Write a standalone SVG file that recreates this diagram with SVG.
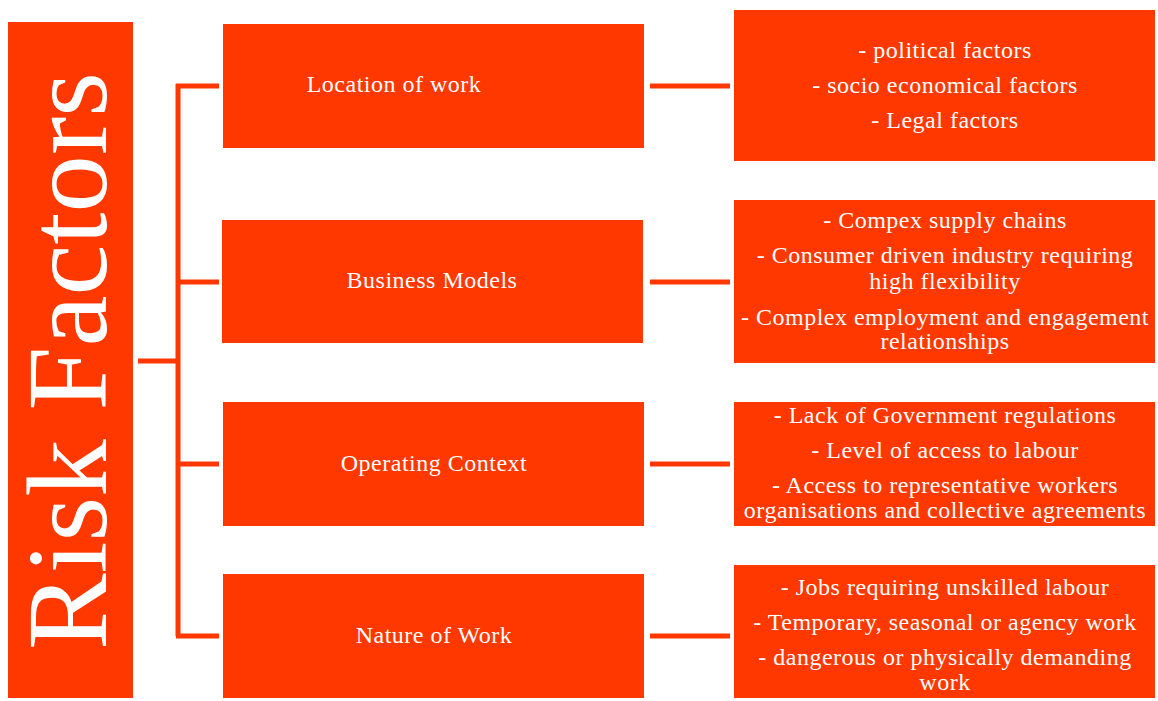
<svg xmlns="http://www.w3.org/2000/svg" width="1158" height="701" viewBox="0 0 1158 701">
  <style>
    .box { fill: #ff3800; }
    .lbl { fill: #ffffff; font-family: "Liberation Serif", "DejaVu Serif", serif; font-size: 24px; letter-spacing: 0.5px; text-anchor: middle; }
    .title { fill: #ffffff; font-family: "Liberation Serif", "DejaVu Serif", serif; font-size: 115px; text-anchor: middle; }
    .conn { stroke: #ff3800; stroke-width: 5; fill: none; }
  </style>
  <rect width="1158" height="701" fill="#ffffff"/>

  <g id="connectors">
    <path class="conn" d="M138 361 H178 M178 84 V636 M176 86 H219 M176 282 H219 M176 464 H219 M176 636 H219"/>
    <path class="conn" d="M650 86 H730 M650 282 H730 M650 464 H730 M650 636 H730"/>
  </g>

  <g id="risk-factors">
    <rect class="box" x="8" y="22" width="125" height="676"/>
    <text class="title" transform="rotate(-90)" x="-361" y="106">Risk Factors</text>
  </g>

  <g id="location-of-work">
    <rect class="box" x="223" y="24" width="421" height="124"/>
    <text class="lbl" x="394" y="92">Location of work</text>
  </g>
  <g id="business-models">
    <rect class="box" x="222" y="220" width="421" height="123"/>
    <text class="lbl" x="432" y="288">Business Models</text>
  </g>
  <g id="operating-context">
    <rect class="box" x="223" y="402" width="421" height="124"/>
    <text class="lbl" x="434" y="471">Operating Context</text>
  </g>
  <g id="nature-of-work">
    <rect class="box" x="223" y="574" width="421" height="124"/>
    <text class="lbl" x="434" y="643">Nature of Work</text>
  </g>

  <g id="location-details">
    <rect class="box" x="734" y="10" width="421" height="151"/>
    <text class="lbl" x="945" y="58">- political factors</text>
    <text class="lbl" x="945" y="93">- socio economical factors</text>
    <text class="lbl" x="945" y="128">- Legal factors</text>
  </g>
  <g id="business-details">
    <rect class="box" x="734" y="200" width="421" height="163"/>
    <text class="lbl" x="945" y="228">- Compex supply chains</text>
    <text class="lbl" x="945" y="263">- Consumer driven industry requiring</text>
    <text class="lbl" x="945" y="289">high flexibility</text>
    <text class="lbl" x="945" y="325">- Complex employment and engagement</text>
    <text class="lbl" x="945" y="349">relationships</text>
  </g>
  <g id="operating-details">
    <rect class="box" x="734" y="402" width="421" height="124"/>
    <text class="lbl" x="945" y="423">- Lack of Government regulations</text>
    <text class="lbl" x="945" y="458">- Level of access to labour</text>
    <text class="lbl" x="945" y="493">- Access to representative workers</text>
    <text class="lbl" x="945" y="518">organisations and collective agreements</text>
  </g>
  <g id="nature-details">
    <rect class="box" x="734" y="565" width="421" height="133"/>
    <text class="lbl" x="945" y="595">- Jobs requiring unskilled labour</text>
    <text class="lbl" x="945" y="630">- Temporary, seasonal or agency work</text>
    <text class="lbl" x="945" y="665">- dangerous or physically demanding</text>
    <text class="lbl" x="945" y="690">work</text>
  </g>
</svg>
